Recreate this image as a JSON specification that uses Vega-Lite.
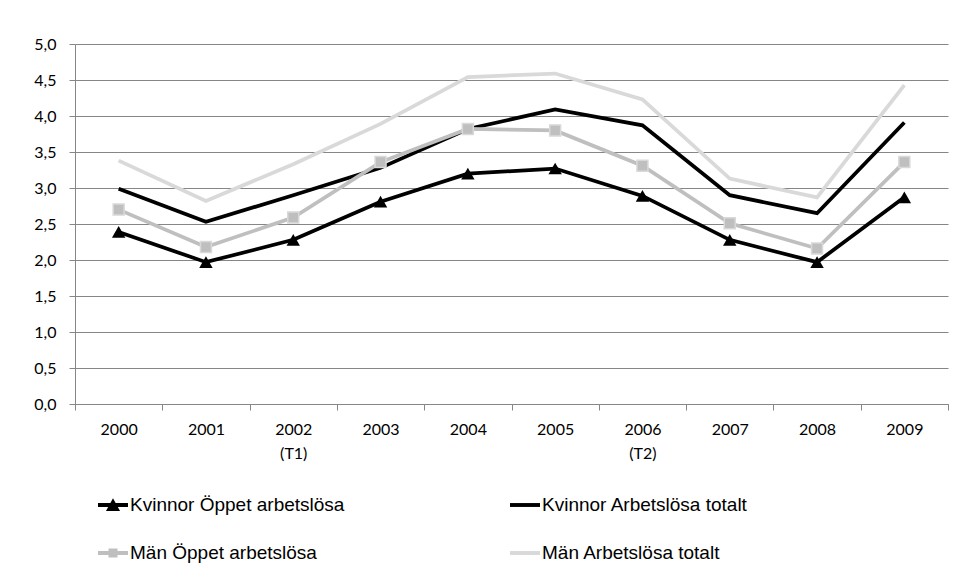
{
  "$schema": "https://vega.github.io/schema/vega-lite/v6.json",
  "autosize": {"type": "none"},
  "width": 873,
  "height": 360,
  "padding": {"left": 75, "top": 44, "right": 24, "bottom": 183},
  "background": "white",
  "config": {"view": {"stroke": null}},
  "data": {"values": [
    {"year": "2000", "series": "Kvinnor Öppet arbetslösa", "value": 2.39},
    {"year": "2001", "series": "Kvinnor Öppet arbetslösa", "value": 1.97},
    {"year": "2002", "series": "Kvinnor Öppet arbetslösa", "value": 2.28},
    {"year": "2003", "series": "Kvinnor Öppet arbetslösa", "value": 2.81},
    {"year": "2004", "series": "Kvinnor Öppet arbetslösa", "value": 3.2},
    {"year": "2005", "series": "Kvinnor Öppet arbetslösa", "value": 3.27},
    {"year": "2006", "series": "Kvinnor Öppet arbetslösa", "value": 2.89},
    {"year": "2007", "series": "Kvinnor Öppet arbetslösa", "value": 2.28},
    {"year": "2008", "series": "Kvinnor Öppet arbetslösa", "value": 1.97},
    {"year": "2009", "series": "Kvinnor Öppet arbetslösa", "value": 2.87},
    {"year": "2000", "series": "Kvinnor Arbetslösa totalt", "value": 2.99},
    {"year": "2001", "series": "Kvinnor Arbetslösa totalt", "value": 2.53},
    {"year": "2002", "series": "Kvinnor Arbetslösa totalt", "value": 2.9},
    {"year": "2003", "series": "Kvinnor Arbetslösa totalt", "value": 3.28},
    {"year": "2004", "series": "Kvinnor Arbetslösa totalt", "value": 3.82},
    {"year": "2005", "series": "Kvinnor Arbetslösa totalt", "value": 4.09},
    {"year": "2006", "series": "Kvinnor Arbetslösa totalt", "value": 3.87},
    {"year": "2007", "series": "Kvinnor Arbetslösa totalt", "value": 2.9},
    {"year": "2008", "series": "Kvinnor Arbetslösa totalt", "value": 2.65},
    {"year": "2009", "series": "Kvinnor Arbetslösa totalt", "value": 3.91},
    {"year": "2000", "series": "Män Öppet arbetslösa", "value": 2.7},
    {"year": "2001", "series": "Män Öppet arbetslösa", "value": 2.18},
    {"year": "2002", "series": "Män Öppet arbetslösa", "value": 2.59},
    {"year": "2003", "series": "Män Öppet arbetslösa", "value": 3.36},
    {"year": "2004", "series": "Män Öppet arbetslösa", "value": 3.82},
    {"year": "2005", "series": "Män Öppet arbetslösa", "value": 3.8},
    {"year": "2006", "series": "Män Öppet arbetslösa", "value": 3.31},
    {"year": "2007", "series": "Män Öppet arbetslösa", "value": 2.51},
    {"year": "2008", "series": "Män Öppet arbetslösa", "value": 2.16},
    {"year": "2009", "series": "Män Öppet arbetslösa", "value": 3.36},
    {"year": "2000", "series": "Män Arbetslösa totalt", "value": 3.38},
    {"year": "2001", "series": "Män Arbetslösa totalt", "value": 2.82},
    {"year": "2002", "series": "Män Arbetslösa totalt", "value": 3.33},
    {"year": "2003", "series": "Män Arbetslösa totalt", "value": 3.89},
    {"year": "2004", "series": "Män Arbetslösa totalt", "value": 4.54},
    {"year": "2005", "series": "Män Arbetslösa totalt", "value": 4.59},
    {"year": "2006", "series": "Män Arbetslösa totalt", "value": 4.23},
    {"year": "2007", "series": "Män Arbetslösa totalt", "value": 3.13},
    {"year": "2008", "series": "Män Arbetslösa totalt", "value": 2.87},
    {"year": "2009", "series": "Män Arbetslösa totalt", "value": 4.43}
  ]},
  "encoding": {
    "x": {
      "field": "year", "type": "ordinal",
      "scale": {"paddingInner": 0, "paddingOuter": 0},
      "axis": {
        "title": null, "labelAngle": 0,
        "labelFont": "Lato", "labelFontSize": 16, "labelColor": "#000000",
        "labelLineHeight": 24, "labelPadding": 11,
        "labelExpr": "datum.value == '2002' ? ['2002','(T1)'] : datum.value == '2006' ? ['2006','(T2)'] : datum.label",
        "tickBand": "extent", "tickSize": 6, "tickColor": "#868686",
        "domainColor": "#868686", "grid": false
      }
    },
    "y": {
      "field": "value", "type": "quantitative",
      "scale": {"domain": [0, 5], "nice": false},
      "axis": {
        "title": null, "values": [0, 0.5, 1, 1.5, 2, 2.5, 3, 3.5, 4, 4.5, 5],
        "format": ".1f", "labelExpr": "replace(datum.label, '.', ',')",
        "labelFont": "Lato", "labelFontSize": 16, "labelColor": "#000000",
        "labelPadding": 13, "tickSize": 6, "tickColor": "#868686",
        "domainColor": "#868686", "gridColor": "#868686", "gridOpacity": 1
      }
    }
  },
  "layer": [
    {
      "mark": {"type": "line", "strokeWidth": 3.75},
      "encoding": {
        "color": {
          "field": "series", "type": "nominal",
          "scale": {
            "domain": ["Kvinnor Öppet arbetslösa", "Kvinnor Arbetslösa totalt", "Män Öppet arbetslösa", "Män Arbetslösa totalt"],
            "range": ["#000000", "#000000", "#BFBFBF", "#D9D9D9"]
          },
          "legend": {
            "title": null, "orient": "none", "legendX": 23, "legendY": 446,
            "direction": "horizontal", "columns": 2, "columnPadding": 165, "rowPadding": 23,
            "labelFont": "Liberation Sans", "labelFontSize": 19, "labelColor": "#000000",
            "labelOffset": 2, "symbolSize": 900, "labelLimit": 400,
            "encode": {
              "symbols": {
                "update": {
                  "shape": {"signal": "datum.value == 'Kvinnor Öppet arbetslösa' ? 'M-1,-0.13H1V0.13H-1Z M-0.47,0.4L0,-0.45L0.47,0.4Z' : datum.value == 'Män Öppet arbetslösa' ? 'M-1,-0.13H1V0.13H-1Z M-0.3,-0.3H0.3V0.3H-0.3Z' : 'M-1,-0.13H1V0.13H-1Z'"},
                  "fill": {"scale": "color", "field": "value"},
                  "stroke": {"value": "transparent"},
                  "strokeWidth": {"value": 0},
                  "opacity": {"value": 1}
                }
              }
            }
          }
        }
      }
    },
    {
      "transform": [{"filter": "datum.series == 'Kvinnor Öppet arbetslösa'"}],
      "mark": {"type": "point", "shape": "triangle-up", "filled": true, "fill": "#000000", "size": 180, "opacity": 1}
    },
    {
      "transform": [{"filter": "datum.series == 'Män Öppet arbetslösa'"}],
      "mark": {"type": "point", "shape": "square", "filled": true, "fill": "#BFBFBF", "stroke": "#D9D9D9", "strokeWidth": 1.5, "size": 120, "opacity": 1}
    }
  ]
}
